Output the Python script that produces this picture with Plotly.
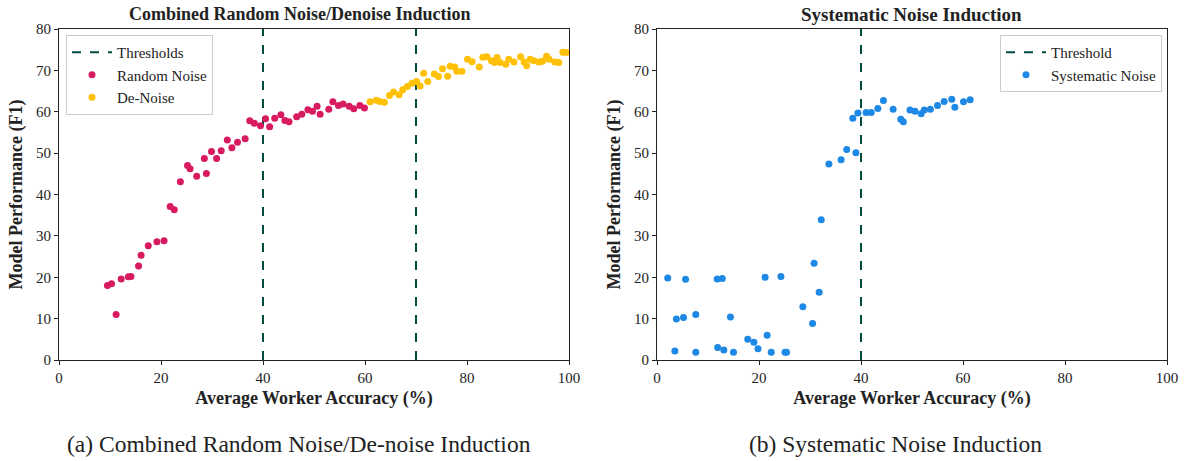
import plotly.graph_objects as go

# ---------------- data ----------------
random_x = [9.5, 10.3, 11.2, 12.2, 13.6, 14.1, 15.6, 16.1, 17.5, 19.2, 20.6, 21.8, 22.6, 23.8,
            25.2, 25.7, 27.0, 28.5, 28.9, 29.9, 30.9, 31.8, 33.0, 33.9, 35.0, 36.5, 37.4, 38.3,
            39.5, 40.5, 41.3, 42.3, 43.5, 44.3, 45.1, 46.6, 47.6, 48.8, 49.7, 50.6, 51.2, 52.9,
            53.7, 54.8, 55.7, 56.9, 57.8, 59.0, 59.9]
random_y = [18.0, 18.4, 11.0, 19.6, 20.1, 20.2, 22.7, 25.3, 27.6, 28.6, 28.8, 37.1, 36.3, 43.1,
            47.0, 46.2, 44.4, 48.7, 45.1, 50.4, 48.7, 50.6, 53.2, 51.3, 52.6, 53.5, 57.8, 57.2,
            56.6, 58.3, 56.4, 58.4, 59.3, 57.9, 57.6, 58.8, 59.4, 60.5, 60.1, 61.3, 59.4, 60.6,
            62.4, 61.5, 61.9, 61.3, 60.7, 61.5, 60.9]

denoise_x = [61.0, 62.2, 62.9, 63.8, 64.8, 65.6, 66.7, 67.4, 68.3, 69.2, 70.1, 70.8, 71.5, 72.3,
             73.6, 74.4, 75.2, 76.2, 76.7, 77.6, 78.0, 79.0, 80.1, 81.0, 82.4, 83.1, 83.9, 84.8,
             85.4, 85.9, 86.5, 87.6, 88.2, 89.2, 90.5, 91.2, 91.7, 92.4, 93.1, 94.1, 94.8, 95.6,
             96.1, 97.2, 98.0, 98.8, 99.5]
denoise_y = [62.4, 62.8, 62.5, 62.3, 63.9, 64.8, 64.1, 65.3, 66.1, 66.9, 67.3, 66.2, 69.3, 67.3,
             69.1, 68.5, 70.4, 68.6, 71.0, 70.8, 69.8, 69.8, 72.7, 72.1, 70.8, 73.2, 73.3, 72.3,
             71.9, 73.1, 71.9, 71.5, 72.7, 72.0, 73.3, 72.0, 71.1, 72.7, 72.3, 72.0, 72.2, 73.4,
             72.7, 72.0, 71.9, 74.4, 74.3]

systematic_x = [2.1, 5.6, 11.8, 12.8, 21.2, 24.3, 32.2, 30.8, 31.8, 28.6, 30.5, 3.8, 5.2, 7.6,
                14.4, 3.5, 7.6, 11.9, 13.1, 15.0, 17.8, 19.0, 19.8, 21.6, 22.4, 25.1, 25.4,
                33.7, 36.1, 37.2, 39.0, 38.4, 39.4, 41.0, 42.0, 43.3, 44.4, 46.3, 47.8, 48.3,
                49.6, 50.6, 51.8, 52.4, 53.6, 55.0, 56.3, 57.8, 58.4, 60.1, 61.4]
systematic_y = [19.8, 19.5, 19.6, 19.7, 20.0, 20.2, 33.9, 23.4, 16.4, 12.9, 8.8, 9.9, 10.3, 11.0,
                10.4, 2.2, 1.9, 3.0, 2.4, 1.9, 5.0, 4.3, 2.7, 6.0, 1.9, 1.9, 1.9,
                47.4, 48.4, 50.9, 50.1, 58.4, 59.7, 59.8, 59.8, 60.8, 62.7, 60.6, 58.2, 57.6,
                60.4, 60.1, 59.5, 60.4, 60.6, 61.5, 62.5, 63.0, 61.1, 62.4, 62.9]

thresholds_left = [40, 70]
threshold_right = [40]
y_range = [0, 80]
x_ticks = [0, 20, 40, 60, 80, 100]
y_ticks = [0, 10, 20, 30, 40, 50, 60, 70, 80]

# ---------------- style ----------------
FONT = "Liberation Serif"
C_RANDOM = "#D81B60"
C_DENOISE = "#FFC107"
C_SYS = "#1E88E5"
C_THR = "#004D40"

W, H = 1188, 461
def px(v):
    return v / W
def py(v):
    return 1 - v / H

fig = go.Figure()

for i, t in enumerate(thresholds_left):
    fig.add_trace(go.Scatter(x=[t, t], y=y_range, mode="lines",
                             line=dict(color=C_THR, width=2, dash="dash"),
                             name="Thresholds", showlegend=(i == 0), legend="legend",
                             xaxis="x", yaxis="y"))
fig.add_trace(go.Scatter(x=random_x, y=random_y, mode="markers", name="Random Noise",
                         marker=dict(color=C_RANDOM, size=7), legend="legend",
                         xaxis="x", yaxis="y"))
fig.add_trace(go.Scatter(x=denoise_x, y=denoise_y, mode="markers", name="De-Noise",
                         marker=dict(color=C_DENOISE, size=7), legend="legend",
                         xaxis="x", yaxis="y"))

for t in threshold_right:
    fig.add_trace(go.Scatter(x=[t, t], y=y_range, mode="lines",
                             line=dict(color=C_THR, width=2, dash="dash"),
                             name="Threshold", legend="legend2",
                             xaxis="x2", yaxis="y2"))
fig.add_trace(go.Scatter(x=systematic_x, y=systematic_y, mode="markers", name="Systematic Noise",
                         marker=dict(color=C_SYS, size=7), legend="legend2",
                         xaxis="x2", yaxis="y2"))

ydom = [py(360), py(29)]
axis_common = dict(showline=True, linecolor="#222", linewidth=1.2, mirror=True,
                   ticks="outside", ticklen=4, tickcolor="#222", showgrid=False,
                   zeroline=False, automargin=False,
                   tickfont=dict(family=FONT, size=15, color="#222"))
xtitle = dict(text="<b>Average Worker Accuracy (%)</b>", font=dict(family=FONT, size=18), standoff=6)
ytitle = dict(text="<b>Model Performance (F1)</b>", font=dict(family=FONT, size=18), standoff=8)

fig.update_layout(
    width=W, height=H,
    margin=dict(l=0, r=0, t=0, b=0, autoexpand=False),
    paper_bgcolor="white", plot_bgcolor="white",
    font=dict(family=FONT, color="#222"),
    xaxis=dict(domain=[px(59), px(569)], range=[0, 100], tickvals=x_ticks, anchor="y",
               title=xtitle, **axis_common),
    yaxis=dict(domain=ydom, range=y_range, tickvals=y_ticks, anchor="x",
               title=ytitle, **axis_common),
    xaxis2=dict(domain=[px(657), px(1167)], range=[0, 100], tickvals=x_ticks, anchor="y2",
                title=xtitle, **axis_common),
    yaxis2=dict(domain=ydom, range=y_range, tickvals=y_ticks, anchor="x2",
                title=ytitle, **axis_common),
    legend=dict(x=px(66), y=py(35), xanchor="left", yanchor="top",
                bgcolor="rgba(255,255,255,0.9)", bordercolor="#ccc", borderwidth=1,
                font=dict(family=FONT, size=15), tracegroupgap=0, itemwidth=40),
    legend2=dict(x=px(1162), y=py(35), xanchor="right", yanchor="top",
                 bgcolor="rgba(255,255,255,0.9)", bordercolor="#ccc", borderwidth=1,
                 font=dict(family=FONT, size=15), tracegroupgap=0, itemwidth=40),
    annotations=[
        dict(text="<b>Combined Random Noise/Denoise Induction</b>", x=px(300), y=py(14),
             xref="paper", yref="paper", showarrow=False, font=dict(family=FONT, size=18),
             xanchor="center", yanchor="middle"),
        dict(text="<b>Systematic Noise Induction</b>", x=px(912), y=py(14),
             xref="paper", yref="paper", showarrow=False, font=dict(family=FONT, size=19),
             xanchor="center", yanchor="middle"),
        dict(text="(a) Combined Random Noise/De-noise Induction", x=px(299), y=py(444),
             xref="paper", yref="paper", showarrow=False, font=dict(family=FONT, size=23.5),
             xanchor="center", yanchor="middle"),
        dict(text="(b) Systematic Noise Induction", x=px(895), y=py(444),
             xref="paper", yref="paper", showarrow=False, font=dict(family=FONT, size=23.5),
             xanchor="center", yanchor="middle"),
    ],
)

fig.write_html("out.html", config={"displayModeBar": False},
               post_script="document.body.style.margin='0';document.body.style.overflow='hidden';")
